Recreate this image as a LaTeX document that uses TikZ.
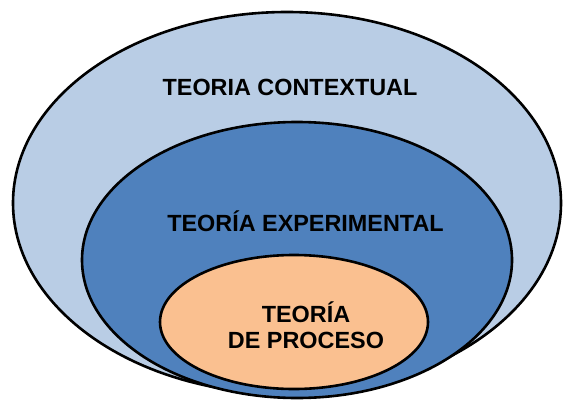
\documentclass[tikz,border=0pt]{standalone}
\usepackage{fontspec}
\setmainfont{Liberation Sans}
\usepackage{tikz}
\usetikzlibrary{positioning}
\definecolor{contextblue}{HTML}{B9CDE5}
\definecolor{expblue}{HTML}{4F81BD}
\definecolor{procorange}{HTML}{FAC090}
\tikzset{layer/.style = {draw=black, line width=2.6pt},
         label/.style = {font=\fontsize{23.4}{26}\selectfont\bfseries,
                          align=center, inner sep=0pt, text=black}}

\begin{document}
\begin{tikzpicture}[x=1pt, y=-1pt]
      \useasboundingbox (0, 0) rectangle (564, 404);

      \filldraw [layer, fill=contextblue] (287, 203) ellipse [x radius=274, y radius=191];
      \filldraw [layer, fill=expblue] (297, 260) ellipse [x radius=215, y radius=138];
      \filldraw [layer, fill=procorange] (294, 322) ellipse [x radius=134, y radius=67];

      \node [label] (contextual) at (290, 87.5) {TEORIA CONTEXTUAL};
      \node [label] (experimental) at (305.5, 221) {TEORÍA EXPERIMENTAL};
      \node [label] (proceso) at (306, 325) {TEORÍA\\DE PROCESO};
    \end{tikzpicture}
\end{document}
